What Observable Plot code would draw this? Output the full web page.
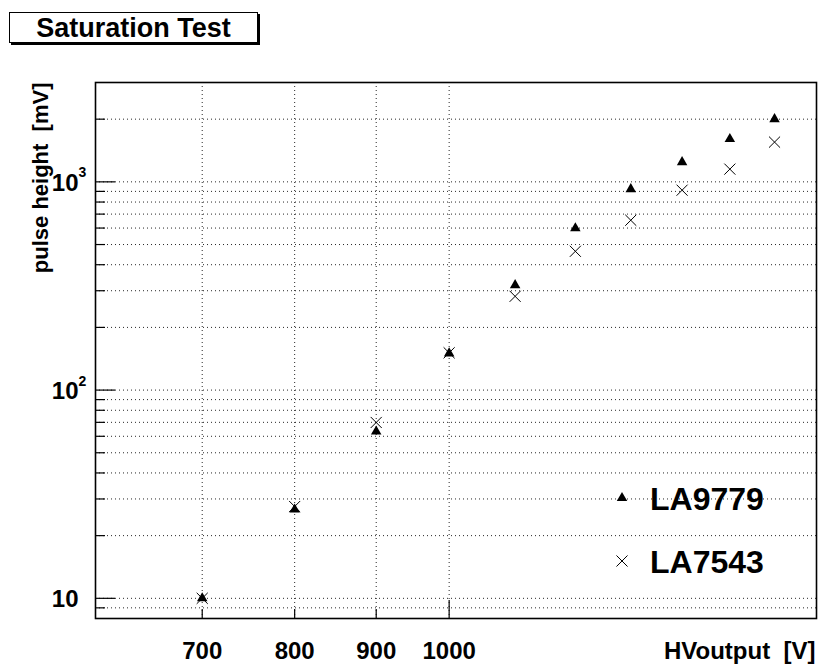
<!DOCTYPE html>
<html>
<head>
<meta charset="utf-8">
<script src="https://cdn.jsdelivr.net/npm/d3@7"></script>
<script src="https://cdn.jsdelivr.net/npm/@observablehq/plot@0.6"></script>
<style>
  html, body { margin: 0; padding: 0; background: #fff; }
  #wrap { position: relative; width: 821px; height: 671px; font-family: "Liberation Sans", Arial, Helvetica, sans-serif; }
  #title { position: absolute; left: 9px; top: 12px; width: 247px; height: 29px; border: 1px solid #000; background: #fff;
           box-shadow: 2px 2px 0 #000; font-weight: bold; font-size: 27px; line-height: 31px; text-align: center; }
  #legend { position: absolute; left: 600px; top: 478px; }
  svg { display: block; }
</style>
</head>
<body>
<div id="wrap">
  <div id="chart"></div>
  <div id="title">Saturation Test</div>
  <div id="legend"></div>
</div>
<script>
// ---- data ----
const hv = [700, 800, 900, 1000, 1100, 1200, 1300, 1400, 1500, 1600];
const la9779 = [10, 26.7, 63.3, 150, 319, 599, 923, 1244, 1605, 2001];
const la7543 = [10, 27.6, 69.9, 151, 282, 464, 654, 912, 1151, 1552];
const seriesNames = ["LA9779", "LA7543"];

const xTicks = [700, 800, 900, 1000];
const xTickLabels = ["700", "800", "900", "1000"];
const yMajor = [10, 100, 1000];
const yMajorBase = ["10", "10", "10"];
const yMajorExp = ["", "2", "3"];
const yMinor = [9, 20, 30, 40, 50, 60, 70, 80, 90, 200, 300, 400, 500, 600, 700, 800, 900, 2000];
const yGrid = [9, 10, 20, 30, 40, 50, 60, 70, 80, 90, 100, 200, 300, 400, 500, 600, 700, 800, 900, 1000, 2000];

const titleText = "Saturation Test";
const xLabel = "HVoutput  [V]";
const yLabel = "pulse height  [mV]";

// ---- build ----
const tri = hv.map((x, i) => ({x, y: la9779[i]}));
const crs = hv.map((x, i) => ({x, y: la7543[i]}));
const yMaj = yMajor.map((v, i) => ({v, base: yMajorBase[i], exp: yMajorExp[i]}));
const xT = xTicks.map((v, i) => ({v, t: xTickLabels[i]}));

const FONT = "Liberation Sans, Arial, Helvetica, sans-serif";
const dash = "1,3";

const chart = Plot.plot({
  width: 821,
  height: 671,
  marginLeft: 95,
  marginRight: 5,
  marginTop: 82,
  marginBottom: 53,
  style: {fontFamily: FONT, background: "white"},
  x: {type: "log", domain: [600, 1700], axis: null},
  y: {type: "log", domain: [8, 3000], axis: null},
  marks: [
    Plot.ruleY(yGrid, {stroke: "#000", strokeWidth: 1, strokeDasharray: dash, strokeOpacity: 0.85}),
    Plot.ruleX(xTicks, {stroke: "#000", strokeWidth: 1, strokeDasharray: dash, strokeOpacity: 0.85}),
    Plot.axisY({ticks: yMajor, tickSize: -20, tickFormat: () => "", label: null, anchor: "left", strokeWidth: 1.2}),
    Plot.axisY({ticks: yMinor, tickSize: -10, tickFormat: () => "", label: null, anchor: "left", strokeWidth: 1.2}),
    Plot.axisX({ticks: [700, 800, 900], tickSize: -9, tickFormat: () => "", label: null, anchor: "bottom", strokeWidth: 1.2}),
    Plot.axisX({ticks: [1000], tickSize: -18, tickFormat: () => "", label: null, anchor: "bottom", strokeWidth: 1.2}),
    Plot.frame({stroke: "#000", strokeWidth: 1.6}),
    // y tick labels
    Plot.text(yMaj, {y: "v", text: "base", frameAnchor: "left", textAnchor: "end", dx: -17, dy: 1,
      fontSize: 24, fontWeight: "bold", fill: "#000"}),
    Plot.text(yMaj, {y: "v", text: "exp", frameAnchor: "left", textAnchor: "start", dx: -17, dy: -9,
      fontSize: 14, fontWeight: "bold", fill: "#000"}),
    // x tick labels
    Plot.text(xT, {x: "v", text: "t", frameAnchor: "bottom", dy: 40, fontSize: 24, fontWeight: "bold", fill: "#000"}),
    // axis titles
    Plot.text([xLabel], {frameAnchor: "bottom-right", textAnchor: "end", dx: -1, dy: 40,
      fontSize: 24, fontWeight: "bold", fill: "#000"}),
    Plot.text([yLabel], {frameAnchor: "top-left", textAnchor: "end", rotate: -90, dx: -63, dy: 0,
      fontSize: 22, fontWeight: "bold", fill: "#000"}),
    // data
    Plot.dot(crs, {x: "x", y: "y", symbol: "times", r: 5.1, stroke: "#000", strokeWidth: 1}),
    Plot.dot(tri, {x: "x", y: "y", symbol: "triangle", r: 3.9, fill: "#000", stroke: "none"})
  ]
});
document.getElementById("chart").appendChild(chart);
document.getElementById("title").textContent = titleText;

// legend
const ns = "http://www.w3.org/2000/svg";
const lg = document.createElementNS(ns, "svg");
lg.setAttribute("width", 210);
lg.setAttribute("height", 125);
const lsel = d3.select(lg);
const triPath = d3.symbol(d3.symbolTriangle, 3.9 * 3.9 * Math.PI)();
const crsPath = d3.symbol(d3.symbolTimes, 5.1 * 5.1 * Math.PI)();
seriesNames.forEach((name, i) => {
  const cy = i === 0 ? 20 : 83;
  lsel.append("path").attr("d", i === 0 ? triPath : crsPath)
    .attr("transform", `translate(22,${cy})`)
    .attr("fill", i === 0 ? "#000" : "none")
    .attr("stroke", i === 0 ? "none" : "#000")
    .attr("stroke-width", 1);
  lsel.append("text").attr("x", 50).attr("y", cy + 12)
    .attr("font-family", FONT).attr("font-weight", "bold").attr("font-size", 32)
    .attr("fill", "#000").text(name);
});
document.getElementById("legend").appendChild(lg);
</script>
</body>
</html>
